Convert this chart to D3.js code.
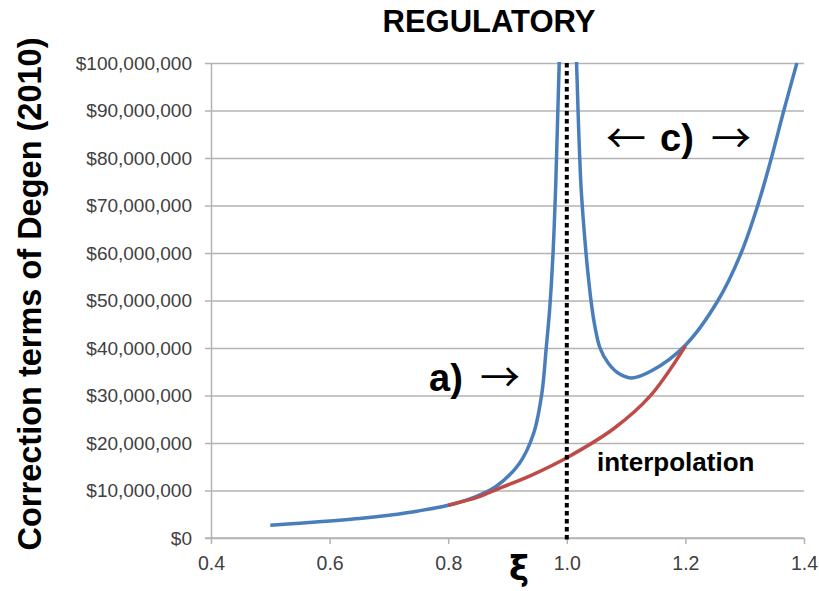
<!DOCTYPE html>
<html>
 <head>
 <title>Regulatory | D3</title>
    <script src="https://d3js.org/d3.v7.min.js" charset="utf-8"></script>
 <style>
body {
 margin: 0;
 background: white;
 font-family: "Liberation Sans", Arial, sans-serif;
}
.grid line {
 stroke: #b3b3b3;
 stroke-width: 1.5;
}
.tick text {
 fill: #404040;
}
.arrow {
 font-family: "Noto Sans CJK JP";
 font-size: 40px;
}
</style>
  </head>
  <body>
  <script>
    // xi values and correction terms in $ millions
    var leftXi = [0.5, 0.55, 0.6, 0.65, 0.7, 0.75, 0.8, 0.84, 0.88, 0.92, 0.944, 0.958, 0.9655, 0.971, 0.9768, 0.9815, 0.9872, 0.992];
    var leftVal = [2.7, 3.1, 3.6, 4.1, 4.8, 5.7, 6.9, 8.4, 10.8, 15.7, 22, 30.5, 40.3, 48, 60, 75, 100, 140];
    var rightXi = [1.012, 1.0165, 1.024, 1.0324, 1.0363, 1.0408, 1.0464, 1.056, 1.07, 1.087, 1.11, 1.143, 1.2, 1.255, 1.294, 1.322, 1.345, 1.366, 1.388];
    var rightVal = [120, 100, 74, 60, 55, 50, 45.2, 40, 36.8, 34.7, 33.7, 35.2, 40.6, 50, 60, 70, 80, 90, 100];
    var interpXi = [0.8, 0.85, 0.887, 0.94, 1.0, 1.08, 1.14, 1.2];
    var interpVal = [6.9, 8.6, 10.5, 13.2, 16.9, 23.1, 29.8, 40.4];
    var xTicks = [0.4, 0.6, 0.8, 1.0, 1.2, 1.4];
    var yTicks = [0, 10, 20, 30, 40, 50, 60, 70, 80, 90, 100];

    var width = 819;
    var height = 591;
    var margin = {left: 211, right: 15, top: 63, bottom: 53};

    var svg = d3.select("body")
     .append("svg")
     .attr("width", width)
     .attr("height", height);

    var x = d3.scaleLinear().domain([0.4, 1.4]).range([margin.left, width - margin.right]);
    var y = d3.scaleLinear().domain([0, 100]).range([height - margin.bottom, margin.top]);

    // horizontal gridlines (with the outside tick)
    svg.append("g")
     .attr("class", "grid")
     .attr("transform", "translate(" + margin.left + ",0)")
     .call(d3.axisLeft(y).tickValues(yTicks).tickSize(-(x(1.4) - x(0.4))).tickSizeOuter(0).tickFormat(""))
     .call(function(g){ g.select(".domain").remove(); })
     .selectAll("line").attr("x1", -6);

    // y axis labels
    var yAxis = svg.append("g")
     .attr("transform", "translate(" + margin.left + ",0)")
     .call(d3.axisLeft(y).tickValues(yTicks).tickSize(0).tickPadding(19)
       .tickFormat(function(d){ return "$" + d3.format(",")(d * 1000000); }));
    yAxis.select(".domain").attr("stroke", "#b3b3b3").attr("stroke-width", 1.5);
    yAxis.selectAll("text").style("font-size", "19px").style("font-family", "Liberation Sans");

    // x axis
    var xAxis = svg.append("g")
     .attr("transform", "translate(0," + y(0) + ")")
     .call(d3.axisBottom(x).tickValues(xTicks).tickSize(6).tickSizeOuter(0).tickPadding(12).tickFormat(d3.format(".1f")));
    xAxis.select(".domain").attr("stroke", "#b3b3b3").attr("stroke-width", 1.5).attr("d", "M" + (margin.left - 6) + ",0H" + x(1.4));
    xAxis.selectAll("line").attr("stroke", "#b3b3b3").attr("stroke-width", 1.5);
    xAxis.selectAll("text").style("font-size", "19.5px").style("font-family", "Liberation Sans");

    svg.append("clipPath").attr("id", "plot")
     .append("rect").attr("x", margin.left).attr("y", margin.top - 1)
     .attr("width", x(1.4) - x(0.4) + 2).attr("height", y(0) - y(100) + 1);

    var line = d3.line()
     .x(function(d){ return x(d[0]); })
     .y(function(d){ return y(d[1]); })
     .curve(d3.curveCatmullRom.alpha(0.5));

    var curves = svg.append("g").attr("clip-path", "url(#plot)");
    curves.append("path")
     .attr("d", line(d3.zip(leftXi, leftVal)))
     .attr("fill", "none").attr("stroke", "#4a7ebb").attr("stroke-width", 3.5);
    curves.append("path")
     .attr("d", line(d3.zip(rightXi, rightVal)))
     .attr("fill", "none").attr("stroke", "#4a7ebb").attr("stroke-width", 3.5);
    curves.append("path")
     .attr("d", line(d3.zip(interpXi, interpVal)))
     .attr("fill", "none").attr("stroke", "#be4b48").attr("stroke-width", 3.5);

    // dotted line at xi = 1
    svg.append("line")
     .attr("x1", x(1.0)).attr("x2", x(1.0))
     .attr("y1", y(100)).attr("y2", y(0) + 2)
     .attr("stroke", "black").attr("stroke-width", 4).attr("stroke-dasharray", "4.5,3.5");

    // title and axis titles
    svg.append("text").attr("x", 489).attr("y", 32).attr("text-anchor", "middle")
     .style("font-size", "31px").style("font-weight", "bold").text("REGULATORY");
    svg.append("text").attr("transform", "translate(41,294) rotate(-90)").attr("text-anchor", "middle")
     .style("font-size", "32.5px").style("font-weight", "bold").text("Correction terms of Degen (2010)");
    svg.append("text").attr("x", 519).attr("y", 580).attr("text-anchor", "middle")
     .style("font-size", "34px").style("font-weight", "bold").style("font-family", "DejaVu Sans").text("ξ");

    // annotations
    svg.append("text").attr("x", 429).attr("y", 391).style("font-size", "38px").style("font-weight", "bold").text("a)");
    svg.append("text").attr("class", "arrow").attr("x", 480).attr("y", 392).text("→");
    svg.append("text").attr("class", "arrow").attr("x", 606).attr("y", 153).text("←");
    svg.append("text").attr("x", 660).attr("y", 151).style("font-size", "38px").style("font-weight", "bold").text("c)");
    svg.append("text").attr("class", "arrow").attr("x", 711).attr("y", 153).text("→");
    svg.append("text").attr("x", 597).attr("y", 471).style("font-size", "26px").style("font-weight", "bold").text("interpolation");
   </script>
 </body>
</html>
